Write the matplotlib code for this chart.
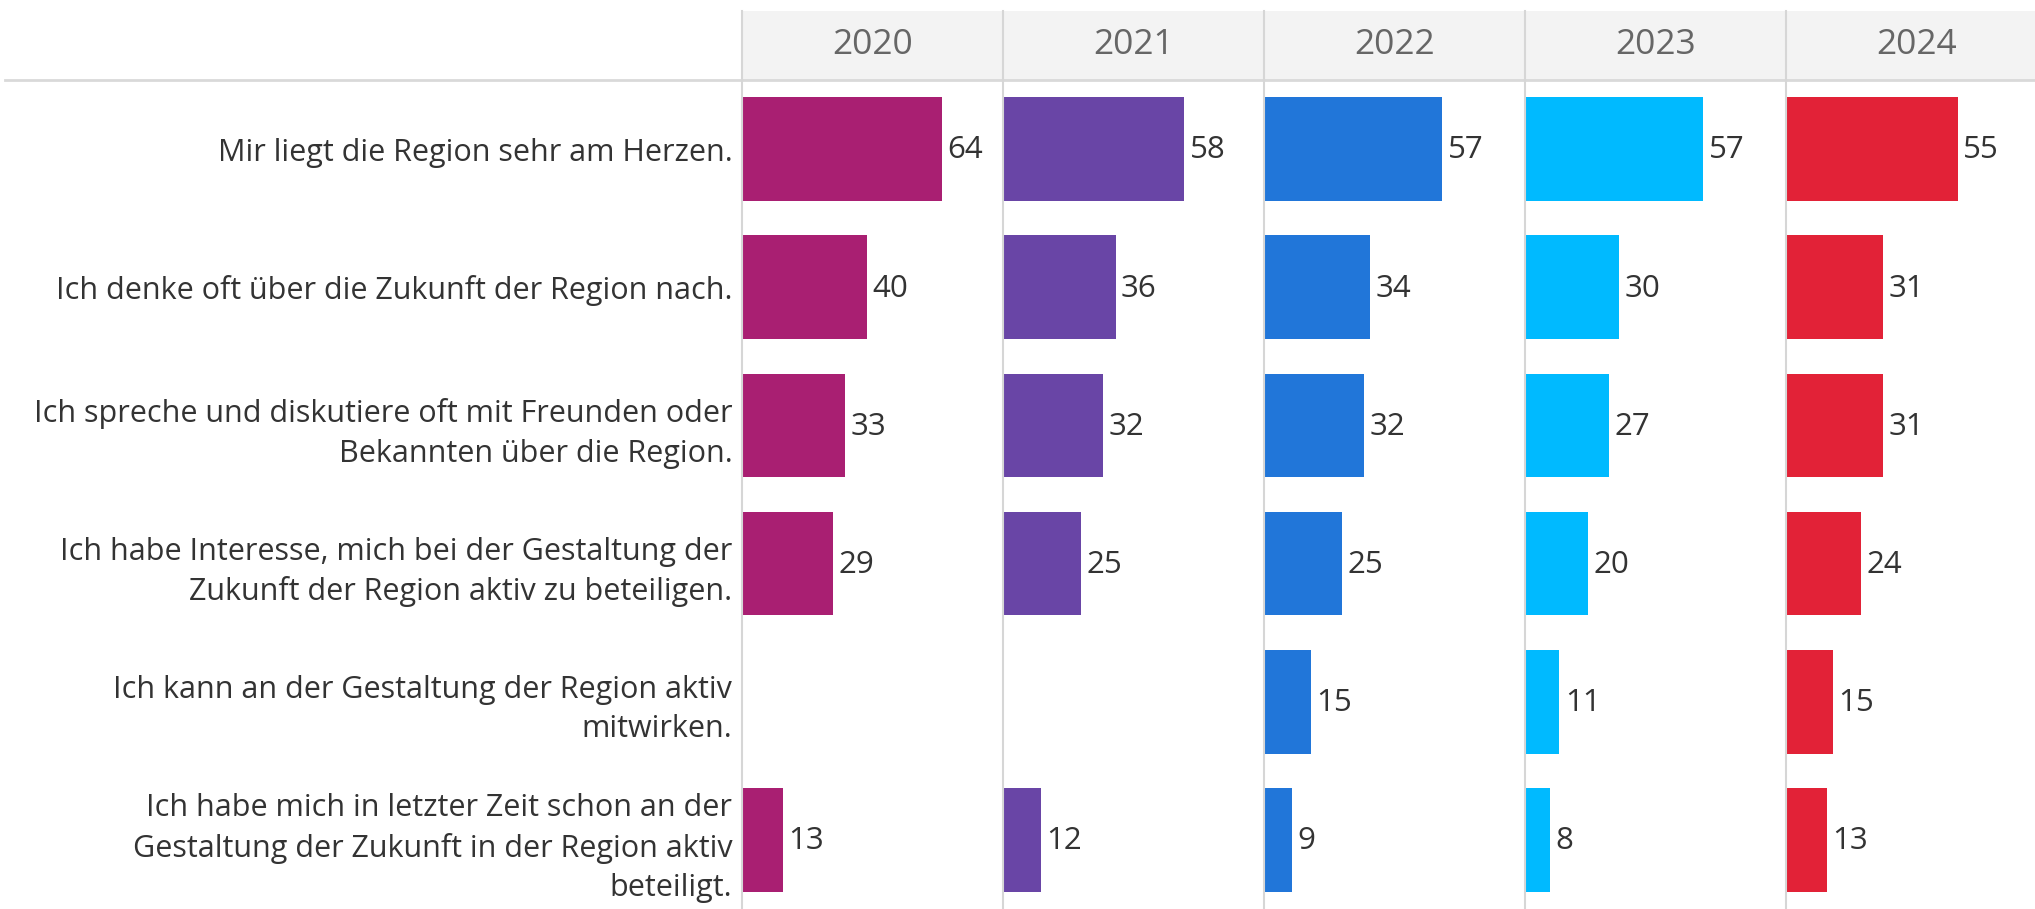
import matplotlib
matplotlib.use("Agg")
import matplotlib.pyplot as plt
from matplotlib.patches import Rectangle
from matplotlib.lines import Line2D
import numpy as np

plt.rcParams['font.family'] = ['Open Sans', 'DejaVu Sans']

# data
years = ["2020", "2021", "2022", "2023", "2024"]
statements = [
    "Mir liegt die Region sehr am Herzen.",
    "Ich denke oft über die Zukunft der Region nach.",
    "Ich spreche und diskutiere oft mit Freunden oder\nBekannten über die Region.",
    "Ich habe Interesse, mich bei der Gestaltung der\nZukunft der Region aktiv zu beteiligen.",
    "Ich kann an der Gestaltung der Region aktiv\nmitwirken.",
    "Ich habe mich in letzter Zeit schon an der\nGestaltung der Zukunft in der Region aktiv\nbeteiligt.",
]
v2020 = [64, 40, 33, 29, None, 13]
v2021 = [58, 36, 32, 25, None, 12]
v2022 = [57, 34, 32, 25, 15, 9]
v2023 = [57, 30, 27, 20, 11, 8]
v2024 = [55, 31, 31, 24, 15, 13]
values = [v2020, v2021, v2022, v2023, v2024]
colors = ["#A91F72", "#6945A6", "#2176D9", "#00BAFF", "#E22237"]

W, H = 2035, 909
fig = plt.figure(figsize=(W / 100, H / 100), dpi=100)
fig.patch.set_facecolor("white")

# layout in pixels
panel_x0 = 742
panel_w = 261
header_top = 11
header_bot = 80
grid_col = "#d6d6d6"

# header band
fig.add_artist(Rectangle((panel_x0 / W, 1 - header_bot / H), (W - panel_x0) / W,
                         (header_bot - header_top) / H, transform=fig.transFigure,
                         facecolor="#f3f3f3", edgecolor="none", zorder=0))
fig.add_artist(Line2D([5 / W, 1], [1 - header_bot / H] * 2, transform=fig.transFigure,
                      color="#d9d9d9", lw=2, zorder=1))

n = len(statements)
for i, (yr, vals, col) in enumerate(zip(years, values, colors)):
    left = panel_x0 + i * panel_w
    ax = fig.add_axes([left / W, 0, panel_w / W, (H - header_bot) / H])
    y = np.arange(n)
    xs = [v if v is not None else 0 for v in vals]
    bars = ax.barh(y, xs, height=0.75, color=col, edgecolor="none")
    for b, v in zip(bars, vals):
        if v is None:
            b.set_visible(False)
            continue
        ax.annotate(str(v), (b.get_width(), b.get_y() + b.get_height() / 2),
                    xytext=(4, -1), textcoords="offset points", va="center", ha="left",
                    fontsize=22.5, color="#333333")
    ax.set_xlim(0, panel_w / 3.125)
    ax.set_ylim(n - 0.5, -0.5)
    for s in ax.spines.values():
        s.set_visible(False)
    ax.set_xticks([])
    if i == 0:
        ax.set_yticks(y)
        ax.set_yticklabels(statements, fontsize=22, color="#333333")
        for t in ax.get_yticklabels():
            t.set_linespacing(1.4)
        ax.tick_params(axis="y", length=0, pad=7)
    else:
        ax.set_yticks([])
    ax.patch.set_alpha(0)
    # vertical divider
    fig.add_artist(Line2D([left / W] * 2, [0, 1 - header_top / H], transform=fig.transFigure,
                          color=grid_col, lw=1.5, zorder=2))
    fig.text((left + panel_w / 2) / W, 1 - (header_top + header_bot) / 2 / H, yr,
             ha="center", va="center", fontsize=25.5, color="#666666")

fig.savefig("out.png", dpi=100)
